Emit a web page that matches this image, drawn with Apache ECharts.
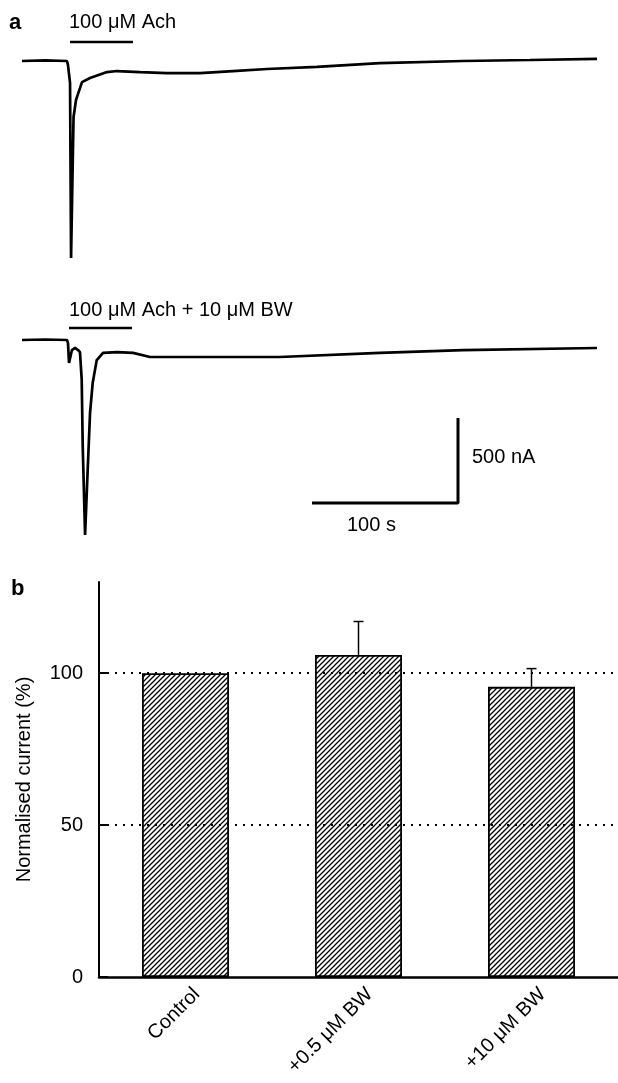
<!DOCTYPE html>
<html>
<head>
<meta charset="utf-8">
<script src="https://cdn.jsdelivr.net/npm/echarts@6/dist/echarts.min.js"></script>
<style>
html,body{margin:0;padding:0;background:#fff;}
#c{width:618px;height:1083px;}
</style>
</head>
<body>
<div id="c"></div>
<script>
// ---- Panel a: current traces (time in s, current in nA relative to baseline) ----
const trace1Time = [0, 15.8, 30.8, 31.5, 32.9, 33.6, 35.3, 37, 41.1, 46.6, 58.2, 65.1, 80.8, 99.3, 121.9, 144.5, 167.8, 202, 245, 302, 348, 393.8];
const trace1Curr = [0, 4, 0, -24, -129, -1159, -329, -229, -124, -100, -65, -59, -65, -71, -71, -59, -47, -35, -12, 0, 6, 12];
const trace2Time = [0, 15.8, 30.8, 31.5, 32.2, 34.2, 36.3, 38.4, 39.7, 40.9, 41.6, 43.2, 44.7, 46.6, 48.4, 51.2, 55.5, 65.1, 76, 87.7, 121.9, 176.7, 245, 302, 393.8];
const trace2Curr = [0, 3, 0, -18, -135, -59, -47, -59, -71, -235, -629, -1147, -824, -429, -253, -118, -76, -71, -76, -100, -100, -100, -76, -59, -47];
// drug application bars (s)
const app1 = [32.9, 76];
const app2 = [32.2, 75.3];
const appLabels = ['100 μM Ach', '100 μM Ach + 10 μM BW'];
// scale bar: 100 s x 500 nA
const scaleT = [198.6, 298.6];
const scaleI = [-959, -459];
const scaleLabels = ['100 s', '500 nA'];

// ---- Panel b: bar chart ----
const barCats = ['Control', '+0.5 μM BW', '+10 μM BW'];
const barMeans = [100, 106, 95.5];
const barErr = [0, 11, 6];
const yTicks = [0, 50, 100];
const yName = 'Normalised current (%)';

function hatch() {
  const s = 5;
  const c = document.createElement('canvas');
  c.width = s; c.height = s;
  const g = c.getContext('2d');
  g.strokeStyle = '#000';
  g.lineWidth = 1.3;
  g.beginPath();
  g.moveTo(0, s); g.lineTo(s, 0);
  g.moveTo(-1, 1); g.lineTo(1, -1);
  g.moveTo(s - 1, s + 1); g.lineTo(s + 1, s - 1);
  g.stroke();
  return c;
}

const zip = (a, b) => a.map((v, i) => [v, b[i]]);
const FONT = '"Liberation Sans", Arial, Helvetica, sans-serif';
const hiddenVal = (o) => Object.assign({type: 'value', show: false, splitLine: {show: false}}, o);

const chart = echarts.init(document.getElementById('c'), null, {renderer: 'canvas'});
chart.setOption({
  animation: false,
  backgroundColor: '#fff',
  textStyle: {fontFamily: FONT, color: '#000'},
  grid: [
    {left: 22, width: 575, top: 35.5, height: 246.5, outerBoundsMode: 'none', containLabel: false},
    {left: 22, width: 575, top: 314.5, height: 246.5, outerBoundsMode: 'none', containLabel: false},
    {left: 99, right: 0, top: 582, bottom: 106, outerBoundsMode: 'none', containLabel: false}
  ],
  xAxis: [
    hiddenVal({gridIndex: 0, min: 0, max: 393.8}),
    hiddenVal({gridIndex: 1, min: 0, max: 393.8}),
    {
      type: 'category', gridIndex: 2, data: barCats,
      axisLine: {lineStyle: {color: '#000', width: 2.5}},
      axisTick: {show: false},
      axisLabel: {rotate: 45, fontSize: 20, color: '#000', margin: 3, fontFamily: FONT, interval: 0,
        verticalAlign: 'top', lineHeight: 32}
    }
  ],
  yAxis: [
    hiddenVal({gridIndex: 0, min: -1300, max: 150}),
    hiddenVal({gridIndex: 1, min: -1300, max: 150}),
    {
      type: 'value', gridIndex: 2, min: 0, max: 130, interval: 50,
      name: yName, nameLocation: 'middle', nameGap: 65,
      nameTextStyle: {fontSize: 20, color: '#000', fontFamily: FONT},
      axisLine: {show: true, lineStyle: {color: '#000', width: 2}},
      axisTick: {show: true, inside: true, length: 9, lineStyle: {color: '#000', width: 2}, customValues: yTicks},
      axisLabel: {fontSize: 20, color: '#000', margin: 16, fontFamily: FONT, customValues: yTicks,
        formatter: v => (yTicks.indexOf(v) >= 0 ? String(v) : '')},
      splitLine: {show: false}
    }
  ],
  series: [
    {type: 'line', xAxisIndex: 0, yAxisIndex: 0, data: zip(trace1Time, trace1Curr), showSymbol: false, symbol: 'none',
      lineStyle: {color: '#000', width: 2.7}, clip: false},
    {type: 'line', xAxisIndex: 0, yAxisIndex: 0, data: [[app1[0], 112], [app1[1], 112]], symbol: 'none',
      lineStyle: {color: '#000', width: 2.5}, clip: false},
    {type: 'line', xAxisIndex: 1, yAxisIndex: 1, data: zip(trace2Time, trace2Curr), showSymbol: false, symbol: 'none',
      lineStyle: {color: '#000', width: 2.7}, clip: false},
    {type: 'line', xAxisIndex: 1, yAxisIndex: 1, data: [[app2[0], 71], [app2[1], 71]], symbol: 'none',
      lineStyle: {color: '#000', width: 2.5}, clip: false},
    {type: 'line', xAxisIndex: 1, yAxisIndex: 1,
      data: [[scaleT[0], scaleI[0]], [scaleT[1], scaleI[0]], [scaleT[1], scaleI[1]]], symbol: 'none',
      lineStyle: {color: '#000', width: 3}, clip: false},
    {
      type: 'bar', xAxisIndex: 2, yAxisIndex: 2, data: barMeans, barWidth: 87,
      itemStyle: {color: {image: hatch(), repeat: 'repeat'}, borderColor: '#000', borderWidth: 1.8},
      markLine: {
        silent: true, symbol: 'none', label: {show: false},
        lineStyle: {color: '#000', type: [2, 6], width: 2},
        data: [{yAxis: 50}, {yAxis: 100}]
      }
    },
    {
      type: 'custom', xAxisIndex: 2, yAxisIndex: 2,
      data: barMeans.map((m, i) => [i, m, barErr[i]]),
      encode: {x: 0, y: 1},
      renderItem: function (params, api) {
        const x = api.value(0), m = api.value(1), e = api.value(2);
        if (!e) return null;
        const p0 = api.coord([x, m]);
        const p1 = api.coord([x, m + e]);
        return {type: 'group', children: [
          {type: 'line', shape: {x1: p0[0], y1: p0[1], x2: p1[0], y2: p1[1]}, style: {stroke: '#000', lineWidth: 1.5}},
          {type: 'line', shape: {x1: p1[0] - 5, y1: p1[1], x2: p1[0] + 5, y2: p1[1]}, style: {stroke: '#000', lineWidth: 1.5}}
        ]};
      },
      z: 5
    }
  ],
  graphic: [
    {type: 'text', left: 9, top: 12, style: {text: 'a', font: 'bold 22px ' + FONT, fill: '#000'}},
    {type: 'text', left: 69, top: 12, style: {text: appLabels[0], font: '20px ' + FONT, fill: '#000'}},
    {type: 'text', left: 69, top: 300, style: {text: appLabels[1], font: '20px ' + FONT, fill: '#000'}},
    {type: 'text', left: 472, top: 447, style: {text: scaleLabels[1], font: '20px ' + FONT, fill: '#000'}},
    {type: 'text', left: 347, top: 515, style: {text: scaleLabels[0], font: '20px ' + FONT, fill: '#000'}},
    {type: 'text', left: 11, top: 578, style: {text: 'b', font: 'bold 22px ' + FONT, fill: '#000'}}
  ]
});
</script>
</body>
</html>
